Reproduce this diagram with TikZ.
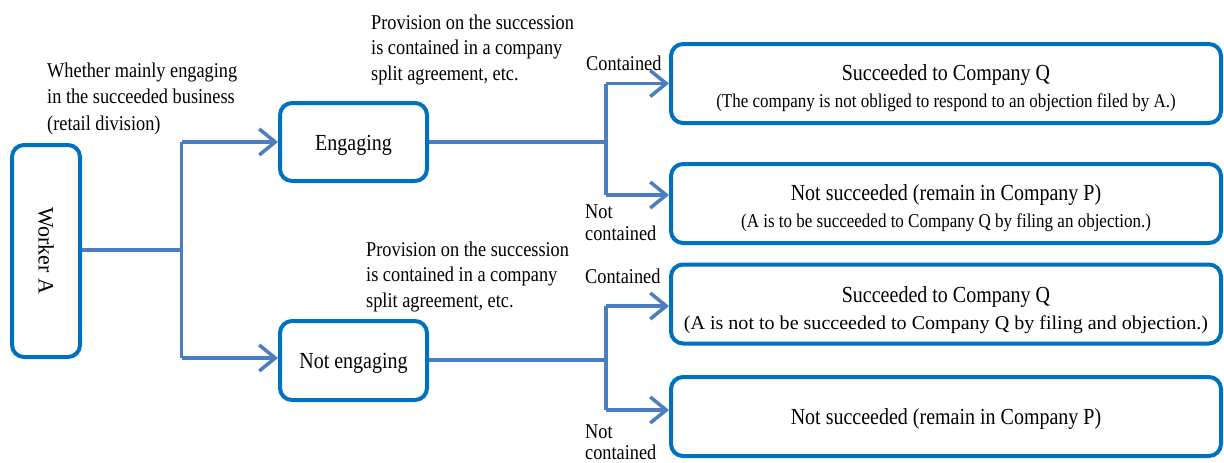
\documentclass[tikz,border=0pt]{standalone}
\usepackage{fontspec}
\setmainfont{Liberation Serif}
\usetikzlibrary{arrows.meta}
\definecolor{boxblue}{RGB}{0,112,192}
\definecolor{arrowblue}{RGB}{74,126,193}
\newcommand\vs[1]{\scalebox{1}[1.15]{#1}}
\newcommand\ttlfont{\fontsize{20}{27}\selectfont}
\newcommand\subfont{\fontsize{17}{27}\selectfont}
\begin{document}
\begin{tikzpicture}[x=1pt,y=-1pt,
  box/.style={draw=boxblue, line width=4pt, rounded corners=12pt, inner sep=0pt, fill=white},
  conn/.style={draw=arrowblue, line width=3.5pt},
  arr/.style={conn, -{Straight Barb[length=16pt,width=26pt,line width=3.5pt]}},
  lbl/.style={align=left, inner sep=0pt, anchor=base west},
  btxt/.style={align=center, inner sep=0pt, font=\subfont},
  rb/.style={box, minimum width=550pt, minimum height=79pt},
]
\useasboundingbox (0,0) rectangle (1224,463);
% boxes
\node[box, minimum width=68pt, minimum height=212pt] (wa) at (46,251) {\rotatebox{-90}{\fontsize{22}{26}\selectfont Worker A}};
\node[box, minimum width=147pt, minimum height=78pt] (eng) at (353.5,142) {};
\node[box, minimum width=147pt, minimum height=79pt] (neng) at (353.5,360.5) {};
\node[rb] (r1) at (946,83.5) {};
\node[rb] (r2) at (946,203.5) {};
\node[rb] (r3) at (946,304) {};
\node[rb] (r4) at (946,416.5) {};
% box texts
\node[btxt, font=\ttlfont] (te) at ([yshift=-3pt]eng.center) {\vs{Engaging}};
\node[btxt, font=\ttlfont] (tn) at ([yshift=-3pt]neng.center) {\vs{Not engaging}};
\node[btxt] (t1) at ([yshift=-5pt]r1.center)
  {{\ttlfont\vs{Succeeded to Company Q}}\\\vs{(The company is not obliged to respond to an objection filed by A.)}};
\node[btxt] (t2) at ([yshift=-5pt]r2.center)
  {{\ttlfont\vs{Not succeeded (remain in Company P)}}\\\vs{(A is to be succeeded to Company Q by filing an objection.)}};
\node[btxt] (t3) at ([yshift=-6pt]r3.center)
  {{\ttlfont\vs{Succeeded to Company Q}}\\\scalebox{1.18}[1.15]{(A is not to be succeeded to Company Q by filing and objection.)}};
\node[btxt, font=\ttlfont] (t4) at ([yshift=-2pt]r4.center)
  {\vs{Not succeeded (remain in Company P)}};
% junctions
\coordinate (j0) at (181.5,250);
\coordinate (j0a) at (181.5,142);
\coordinate (j0b) at (181.5,358);
\coordinate (j1) at (606,142);
\coordinate (j1a) at (606,83.5);
\coordinate (j1b) at (606,195);
\coordinate (j2) at (606,360);
\coordinate (j2a) at (606,306);
\coordinate (j2b) at (606,410);
% connectors
\draw[conn] (wa.east |- j0) -- (j0);
\draw[conn] (j0a) -- (j0b);
\draw[arr] (j0a) -- (eng.west |- j0a);
\draw[arr] (j0b) -- (neng.west |- j0b);
\draw[conn] (eng.east |- j1) -- (j1);
\draw[conn] (j1a) -- (j1b);
\draw[arr] (j1a) -- (r1.west |- j1a);
\draw[arr] (j1b) -- (r2.west |- j1b);
\draw[conn] (neng.east |- j2) -- (j2);
\draw[conn] (j2a) -- (j2b);
\draw[arr] (j2a) -- (r3.west |- j2a);
\draw[arr] (j2b) -- (r4.west |- j2b);
% labels
\node[lbl, font=\fontsize{18.3}{26.5}\selectfont] (l1) at (47,130) {\vs{Whether mainly engaging}\\\vs{in the succeeded business}\\\vs{(retail division)}};
\node[lbl, font=\fontsize{18.3}{25.5}\selectfont] (l2) at (371,80) {\vs{Provision on the succession}\\\vs{is contained in a company}\\\vs{split agreement, etc.}};
\node[lbl, font=\fontsize{18.3}{25.5}\selectfont] (l3) at (366,307) {\vs{Provision on the succession}\\\vs{is contained in a company}\\\vs{split agreement, etc.}};
\node[lbl, font=\fontsize{18.3}{22}\selectfont] (c1) at (586,70) {\vs{Contained}};
\node[lbl, font=\fontsize{18.3}{22}\selectfont] (n1) at (585,240) {\vs{Not}\\\vs{contained}};
\node[lbl, font=\fontsize{18.3}{22}\selectfont] (c2) at (585,283) {\vs{Contained}};
\node[lbl, font=\fontsize{18.3}{21}\selectfont] (n2) at (585,459) {\vs{Not}\\\vs{contained}};
\end{tikzpicture}
\end{document}
